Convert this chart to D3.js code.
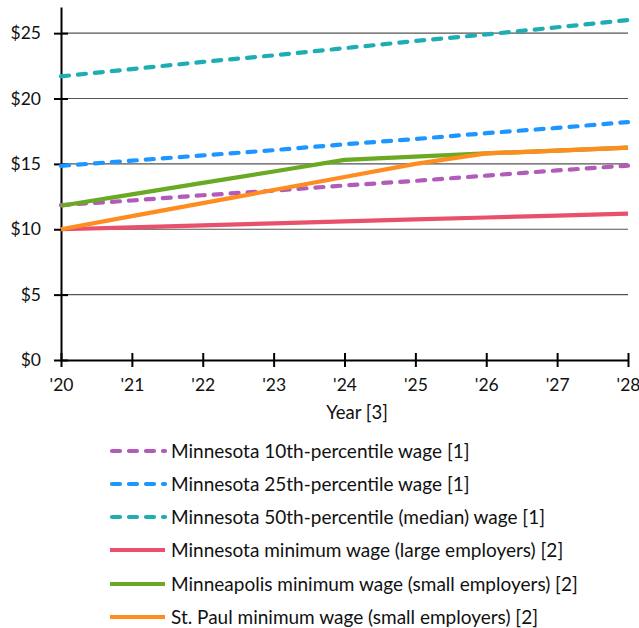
<!DOCTYPE html>
<html><head><meta charset="utf-8">
<script src="https://cdn.jsdelivr.net/npm/d3@7"></script>
<style>
html,body{margin:0;padding:0;background:#fff;}
svg text{font-family:Lato,"Open Sans",sans-serif;fill:#111;}
</style></head>
<body>
<svg id="chart" width="639" height="628"></svg>
<script>
const years = [2020,2021,2022,2023,2024,2025,2026,2027,2028];
const yearLabels = ["'20","'21","'22","'23","'24","'25","'26","'27","'28"];
const yTicks = [0,5,10,15,20,25];
const seriesNames = [
  "Minnesota 10th-percentile wage [1]",
  "Minnesota 25th-percentile wage [1]",
  "Minnesota 50th-percentile (median) wage [1]",
  "Minnesota minimum wage (large employers) [2]",
  "Minneapolis minimum wage (small employers) [2]",
  "St. Paul minimum wage (small employers) [2]"
];
const p10 = [11.85,12.2,12.6,12.95,13.35,13.7,14.1,14.5,14.87];
const p25 = [14.85,15.25,15.65,16.05,16.5,16.9,17.35,17.75,18.2];
const p50 = [21.7,22.25,22.8,23.3,23.85,24.4,24.9,25.45,26.0];
const mnMin = [10.0,10.15,10.3,10.45,10.6,10.75,10.9,11.05,11.2];
const mplsMin = [11.8,12.67,13.55,14.42,15.3,15.55,15.8,16.02,16.24];
const stpMin = [10.0,11.0,12.0,13.0,14.0,15.0,15.8,16.02,16.24];
const seriesValues = [p10,p25,p50,mnMin,mplsMin,stpMin];
const colors = ["#b05cb8","#1e96ff","#1fadb4","#e8506b","#6aaa23","#ff8c1f"];
const dashed = [true,true,true,false,false,false];

const svg = d3.select("#chart");
const x = d3.scaleLinear().domain([2020,2028]).range([61,628]);
const y = d3.scaleLinear().domain([0,27]).range([360,7]);

// gridlines
svg.append("g").selectAll("line").data(yTicks.filter(d=>d>0)).join("line")
  .attr("x1",x(2020)).attr("x2",x(2028))
  .attr("y1",d=>y(d)).attr("y2",d=>y(d))
  .attr("stroke","#555").attr("stroke-width",1.2);

// y axis
const yAxis = d3.axisLeft(y).tickValues(yTicks).tickFormat(d=>"$"+d).tickSizeInner(7).tickSizeOuter(0).tickPadding(13);
const gy = svg.append("g").attr("transform",`translate(${x(2020)},0)`).call(yAxis);
gy.select(".domain").attr("stroke","#000").attr("stroke-width",2);
gy.selectAll(".tick line").attr("stroke","#000").attr("stroke-width",2).attr("x1",7).attr("x2",-7);
gy.selectAll(".tick text").attr("font-size",17.5).attr("font-family","Lato, sans-serif").attr("fill","#111");

// x axis
const xAxis = d3.axisBottom(x).tickValues(years).tickFormat((d,i)=>yearLabels[i]).tickSizeInner(7).tickSizeOuter(0).tickPadding(12);
const gx = svg.append("g").attr("transform",`translate(0,${y(0)})`).call(xAxis);
gx.select(".domain").attr("stroke","#000").attr("stroke-width",2);
gx.selectAll(".tick line").attr("stroke","#000").attr("stroke-width",2).attr("y1",-7).attr("y2",7);
gx.selectAll(".tick text").attr("font-size",17.5).attr("font-family","Lato, sans-serif").attr("fill","#111");
gx.select(".domain").raise();
gy.select(".domain").raise();

svg.append("text").attr("x",357).attr("y",419).attr("text-anchor","middle")
  .attr("font-size",18.5).text("Year [3]");

// lines
const line = d3.line().x((d,i)=>x(years[i])).y(d=>y(d));
seriesValues.forEach((vals,k)=>{
  svg.append("path").datum(vals).attr("d",line)
    .attr("fill","none").attr("stroke",colors[k]).attr("stroke-width",4.2)
    .attr("stroke-linecap",dashed[k]?"round":"butt")
    .attr("stroke-dasharray",dashed[k]?"8,9":null);
});

// legend
const legendY = [451,484,517,550,584,617];
const lg = svg.append("g");
seriesNames.forEach((name,k)=>{
  lg.append("line").attr("x1",dashed[k]?112:110).attr("x2",165)
    .attr("y1",legendY[k]).attr("y2",legendY[k])
    .attr("stroke",colors[k]).attr("stroke-width",4.2)
    .attr("stroke-linecap",dashed[k]?"round":"butt")
    .attr("stroke-dasharray",dashed[k]?"8,9":null);
  lg.append("text").attr("x",171).attr("y",legendY[k]).attr("dy","0.35em")
    .attr("font-size",19).text(name);
});
</script>
</body></html>
